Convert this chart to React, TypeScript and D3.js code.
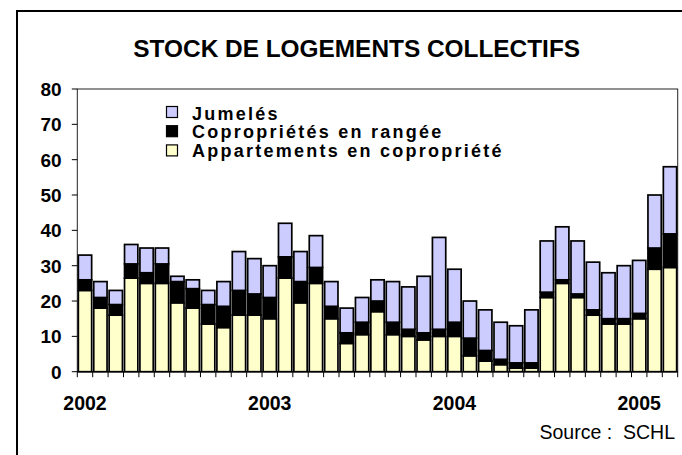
import React from "react";
import * as d3 from "d3";

// monthly stock, Jan 2002 - Mar 2005
const months = [
    "2002-01", "2002-02", "2002-03", "2002-04", "2002-05", "2002-06", "2002-07", "2002-08", "2002-09", "2002-10", "2002-11", "2002-12",
    "2003-01", "2003-02", "2003-03", "2003-04", "2003-05", "2003-06", "2003-07", "2003-08", "2003-09", "2003-10", "2003-11", "2003-12",
    "2004-01", "2004-02", "2004-03", "2004-04", "2004-05", "2004-06", "2004-07", "2004-08", "2004-09", "2004-10", "2004-11", "2004-12",
    "2005-01", "2005-02", "2005-03"
];
const appartements = [23, 18, 16, 26.5, 25, 25, 19.5, 18, 13.5, 12.5, 16, 16, 15, 26.5, 19.5, 25, 15, 8, 10.5, 17, 10.5, 10, 9, 10, 10, 4.5, 3, 2, 1, 1, 21, 25, 21, 16, 13.5, 13.5, 15, 29, 29.5];
const coproprietes = [3, 3, 3, 4, 3, 5.5, 6, 5.5, 5.5, 6, 7, 6, 6, 6, 6, 4.5, 3.5, 3, 3.5, 3, 3.5, 2, 2, 2, 4, 5, 3, 1.5, 1.5, 1.5, 1.5, 1, 1, 1.5, 1.5, 1.5, 1.5, 6, 9.5];
const jumeles = [7, 4.5, 4, 5.5, 7, 4.5, 1.5, 2.5, 4, 7, 11, 10, 9, 9.5, 8.5, 9, 7, 7, 7, 6, 11.5, 12, 16, 26, 15, 10.5, 11.5, 10.5, 10.5, 15, 14.5, 15, 15, 13.5, 13, 15, 15, 15, 19];

const seriesNames = ["Appartements en copropriété", "Copropriétés en rangée", "Jumelés"];
const seriesColors = ["#ffffcc", "#000000", "#ccccff"];
const yTicks = [0, 10, 20, 30, 40, 50, 60, 70, 80];
const yearLabels = ["2002", "2003", "2004", "2005"];

const font = "'Liberation Sans', Arial, sans-serif";

export default function App() {
    const width = 682;
    const height = 455;
    const plot = { left: 77.3, right: 677.7, top: 89, bottom: 371.7 };

    const x = d3.scaleBand<string>()
        .domain(months)
        .range([plot.left, plot.right])
        .paddingInner(0.135)
        .paddingOuter(0.0675);
    const y = d3.scaleLinear().domain([0, 80]).range([plot.bottom, plot.top]);

    const rows = months.map((m, i) => ({ month: m, a: appartements[i], c: coproprietes[i], j: jumeles[i] }));
    const stack = d3.stack<any>().keys(["a", "c", "j"])(rows);

    const step = x.step();
    const boundaries = d3.range(months.length + 1).map(i => plot.left + i * step);

    return (
        <svg width={width} height={height} style={{ position: "absolute", left: 0, top: 0 }} fontFamily={font}>
            <rect x={0} y={0} width={width} height={height} fill="#fff" />
            {/* outer frame */}
            <rect x={17} y={11} width={800} height={600} fill="none" stroke="#000" strokeWidth={2} />

            <text x={356.7} y={56.5} textAnchor="middle" fontSize={24.4} fontWeight="bold">
                STOCK DE LOGEMENTS COLLECTIFS
            </text>

            {/* plot box */}
            <rect x={plot.left} y={plot.top} width={plot.right - plot.left} height={plot.bottom - plot.top}
                fill="none" stroke="#222" strokeWidth={1} />

            {/* y axis */}
            {yTicks.map(t => (
                <g key={t}>
                    <line x1={plot.left - 5.5} x2={plot.left} y1={y(t)} y2={y(t)} stroke="#000" />
                    <text x={61.7} y={y(t)} dy="0.36em" textAnchor="end" fontSize={19} fontWeight="bold">{t}</text>
                </g>
            ))}

            {/* bars */}
            {stack.map((layer, si) => (
                <g key={si} fill={seriesColors[si]} stroke="#000" strokeWidth={1.7}>
                    {layer.map((d, i) => (
                        <rect key={i} x={x(months[i])} width={x.bandwidth()}
                            y={y(d[1])} height={y(d[0]) - y(d[1])} />
                    ))}
                </g>
            ))}

            {/* x axis */}
            <line x1={plot.left} x2={plot.right} y1={plot.bottom} y2={plot.bottom} stroke="#000" />
            {boundaries.map((b, i) => (
                <line key={i} x1={b} x2={b} y1={plot.bottom} y2={plot.bottom + 5.5} stroke="#000" />
            ))}
            {yearLabels.map(yr => (
                <text key={yr} x={(x(yr + "-01") as number) + x.bandwidth() / 2} y={410}
                    textAnchor="middle" fontSize={19.5} fontWeight="bold">{yr}</text>
            ))}

            {/* legend, top entry is the top series */}
            {[2, 1, 0].map((si, k) => (
                <g key={si}>
                    <rect x={166.5} y={106.5 + k * 19.2} width={11} height={11}
                        fill={seriesColors[si]} stroke="#000" strokeWidth={1.2} />
                    <text x={192} y={120 + k * 18.4} fontSize={18} fontWeight="bold" letterSpacing={2.25}>
                        {seriesNames[si]}
                    </text>
                </g>
            ))}

            <text x={675} y={439.3} textAnchor="end" fontSize={19.5} xmlSpace="preserve">Source :  SCHL</text>
        </svg>
    );
}
